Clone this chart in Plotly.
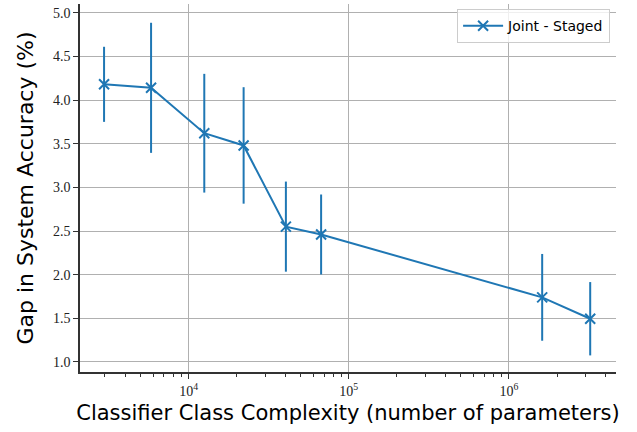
import plotly.graph_objects as go

params = [2960, 5820, 12510, 22030, 40460, 67150, 1614000, 3220000]
gap = [4.18, 4.14, 3.62, 3.48, 2.55, 2.46, 1.74, 1.495]
err = [0.43, 0.745, 0.68, 0.667, 0.516, 0.458, 0.497, 0.42]
series_name = "Joint - Staged"
y_ticks = [1.0, 1.5, 2.0, 2.5, 3.0, 3.5, 4.0, 4.5, 5.0]
x_ticks = [1e4, 1e5, 1e6]
x_ticktext = ["10<sup>4</sup>", "10<sup>5</sup>", "10<sup>6</sup>"]

blue = "#1f77b4"
minor_vals = [k * 10 ** e for e in range(3, 7) for k in range(2, 10)]

fig = go.Figure()
fig.add_trace(go.Scatter(
    x=params, y=gap, mode="lines+markers", name=series_name,
    line=dict(color=blue, width=2),
    marker=dict(symbol="x-thin", size=10, color=blue, line=dict(color=blue, width=2)),
    error_y=dict(type="data", array=err, visible=True, color=blue, thickness=2, width=0),
))

fig.update_layout(
    width=637, height=432,
    margin=dict(l=80, r=21, t=4, b=60),
    paper_bgcolor="white", plot_bgcolor="white",
    showlegend=True,
    legend=dict(x=0.989, y=0.986, xanchor="right", yanchor="top",
                bordercolor="#cccccc", borderwidth=1, bgcolor="rgba(255,255,255,0.8)",
                font=dict(family="DejaVu Sans", size=14, color="black"),
                itemwidth=40),
    xaxis=dict(
        type="log", range=[3.321, 6.669], automargin=False,
        tickmode="array", tickvals=x_ticks, ticktext=x_ticktext,
        ticks="outside", ticklen=5, tickwidth=1, tickcolor="#333",
        showgrid=True, gridcolor="#b0b0b0", gridwidth=1,
        showline=True, linecolor="#333", linewidth=1.5,
        tickfont=dict(family="Liberation Serif", size=14, color="#222"),
        minor=dict(tickmode="array", tickvals=minor_vals, ticks="outside", ticklen=3,
                   tickcolor="#333", showgrid=False),
        title=dict(text="Classifier Class Complexity (number of parameters)",
                   font=dict(family="DejaVu Sans", size=21, color="black"), standoff=8),
        zeroline=False,
    ),
    yaxis=dict(
        range=[0.885, 5.10], automargin=False,
        tickmode="array", tickvals=y_ticks, tickformat=".1f",
        ticks="outside", ticklen=5, tickwidth=1, tickcolor="#333",
        showgrid=True, gridcolor="#b0b0b0", gridwidth=1,
        showline=True, linecolor="#333", linewidth=1.5,
        tickfont=dict(family="Liberation Serif", size=14, color="#222"),
        title=dict(text="Gap in System Accuracy (%)",
                   font=dict(family="DejaVu Sans", size=22, color="black"), standoff=13),
        zeroline=False,
    ),
)

fig.write_html("out.html", config={"displayModeBar": False},
               post_script="document.body.style.margin='0';")
